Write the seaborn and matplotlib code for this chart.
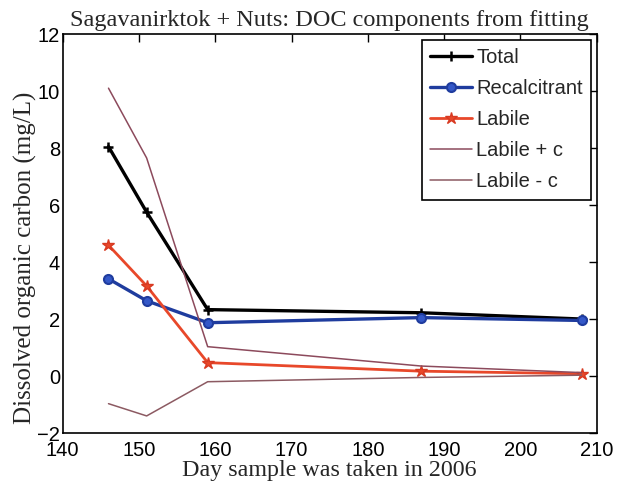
import numpy as np
import pandas as pd
import matplotlib
matplotlib.use("Agg")
import matplotlib.pyplot as plt
import seaborn as sns

days = [146, 151, 159, 187, 208]
total = [8.05, 5.75, 2.33, 2.22, 2.0]
recalcitrant = [3.41, 2.64, 1.87, 2.05, 1.95]
labile = [4.59, 3.16, 0.47, 0.17, 0.08]
labile_plus = [10.1, 7.65, 1.03, 0.35, 0.12]
labile_minus = [-0.97, -1.4, -0.2, -0.05, 0.03]

x_ticks = [140, 150, 160, 170, 180, 190, 200, 210]
y_ticks = [-2, 0, 2, 4, 6, 8, 10, 12]

sns.set_style("white")
plt.rcParams['font.family'] = ['Liberation Sans', 'DejaVu Sans']

fig = plt.figure(figsize=(6.21, 4.86), dpi=100)
ax = fig.add_axes([0.101, 0.109, 0.860, 0.821])

series = [
    ("Total", total, dict(color="black", lw=2.4, marker="+", ms=7, mew=1.8, mec="black")),
    ("Recalcitrant", recalcitrant, dict(color="#1f3c9e", lw=2.4, marker="o", ms=6.5, mew=1.5,
                                        mec="#1f3c9e", mfc="#3458c8")),
    ("Labile", labile, dict(color="#e8482a", lw=2.0, marker="*", ms=9, mew=1.0,
                            mec="#d83a22", mfc="#e8482a")),
    ("Labile + c", labile_plus, dict(color="#8c4a5c", lw=1.1)),
    ("Labile - c", labile_minus, dict(color="#8c5a62", lw=1.1)),
]
for name, vals, kw in series:
    df = pd.DataFrame({"day": days, "doc": vals})
    sns.lineplot(data=df, x="day", y="doc", ax=ax, label=name, **kw)

ax.set_xlim(140, 210)
ax.set_ylim(-2, 12)
ax.set_xticks(x_ticks)
ax.set_yticks(y_ticks)
ax.tick_params(direction="in", length=6, width=1, top=True, right=True,
               labelsize=14.5, colors="black")
ax.tick_params(axis="x", pad=6)
ax.tick_params(axis="y", pad=2)
for s in ax.spines.values():
    s.set_color("black")
    s.set_linewidth(1.2)

serif = ['Liberation Serif', 'DejaVu Serif']
ax.set_title("Sagavanirktok + Nuts: DOC components from fitting", family=serif,
             fontsize=17.5, pad=6)
ax.set_xlabel("Day sample was taken in 2006", family=serif, fontsize=17.3, labelpad=0)
ax.set_ylabel("Dissolved organic carbon (mg/L)", family=serif, fontsize=18)
ax.yaxis.set_label_coords(-0.048, 0.44)

leg = ax.legend(loc="upper right", fontsize=14.5, frameon=True, fancybox=False,
                edgecolor="black", framealpha=1, handlelength=2.1, handletextpad=0.2,
                borderpad=0.4, labelspacing=0.6, borderaxespad=0.3)
leg.get_frame().set_linewidth(1.2)

fig.savefig("out.png", dpi=100)
